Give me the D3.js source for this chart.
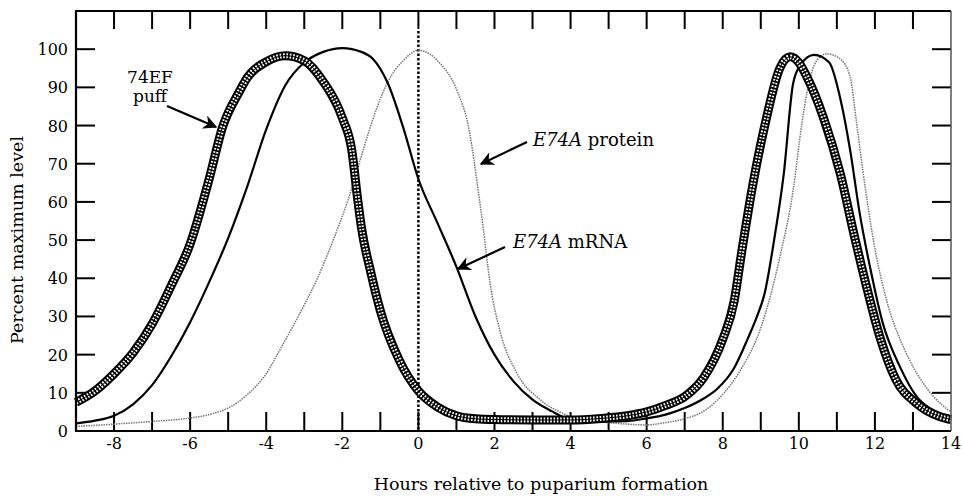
<!DOCTYPE html>
<html>
<head>
<meta charset="utf-8">
<script src="https://cdn.jsdelivr.net/npm/d3@7"></script>
<style>
body { margin: 0; background: #fff; }
text { font-family: "DejaVu Serif", serif; fill: #000; }
</style>
</head>
<body>
<svg width="962" height="496"></svg>
<script>
// hours relative to puparium formation, percent of max
var puff = [[-9,7.5],[-8.5,10.5],[-8,15],[-7.5,20.5],[-7,28],[-6.5,38],[-6,49],[-5.5,66],[-5.15,79.5],[-4.7,89],[-4.5,92.5],[-4,96.7],[-3.5,98.3],[-3,97],[-2.5,91.5],[-2,82],[-1.75,73.5],[-1.6,61],[-1.5,53.5],[-1.25,41.5],[-1,31.5],[-0.5,18.5],[0,10.5],[0.5,6.3],[1,4],[1.5,3.2],[2,3],[3,2.9],[4,2.9],[4.8,3.3],[5.5,4],[6,5],[6.5,6.7],[7,9],[7.5,14],[8,24],[8.3,34],[8.5,47],[8.8,65],[9.15,82],[9.5,95],[9.77,98],[10,96.5],[10.2,93],[10.65,82],[11.1,67],[11.45,51.5],[11.8,37],[12.15,24],[12.55,13.5],[13.1,7.2],[13.7,3.8],[14,3]];

var mrna = [[-9,2],[-8.5,2.7],[-8,4],[-7.5,7],[-7,12],[-6.5,19.5],[-6,28.5],[-5.5,39],[-5,50.5],[-4.5,64],[-4,79],[-3.5,90.5],[-3,96.5],[-2.5,99.3],[-2,100.3],[-1.5,99.3],[-1.2,97.5],[-0.8,91],[-0.4,79.5],[0,66],[0.5,54.5],[1,43],[1.5,30],[2,20],[2.5,13],[3,8.2],[3.5,5.2],[4,3],[4.5,2.6],[5,2.5],[5.5,2.6],[6,3.3],[6.5,4.3],[7,6],[7.5,8.5],[7.85,11],[8.3,16.5],[8.65,24],[8.9,30],[9.1,36],[9.35,50],[9.6,67],[9.85,91],[10.05,96],[10.4,98.5],[10.8,96.5],[11.08,87.5],[11.35,73.5],[11.6,57],[11.87,43],[12.2,28.5],[12.65,17],[13.1,9],[13.5,5.5],[13.8,3.5]];

var protein = [[-9,1.2],[-8,1.8],[-7,2.5],[-6,3.4],[-5.5,4.3],[-5,6],[-4.5,9.5],[-4,15],[-3.6,22],[-3,33],[-2.7,39],[-2.2,51],[-1.85,60.5],[-1.5,72],[-1.15,83],[-0.8,91.5],[-0.4,97],[0,99.7],[0.55,96.5],[1,89.5],[1.35,78],[1.53,66],[1.7,53.5],[1.88,39],[2.15,26],[2.58,15.3],[3.2,8.2],[3.8,4.6],[4.4,2.9],[5,2.2],[5.5,1.8],[6,1.6],[6.5,2.2],[7,3.2],[7.5,5.2],[7.85,8],[8.2,12],[8.5,16.5],[9,27],[9.5,45.5],[9.85,63],[10.08,80.5],[10.22,89],[10.47,97],[10.73,98.8],[11.08,97.5],[11.35,92.7],[11.52,80.5],[11.7,67],[11.96,50],[12.3,34.5],[12.75,22],[13.27,12.5],[13.8,6.5],[14,5]];

var xTicks = d3.range(-8, 14);
var xLabels = [-8, -6, -4, -2, 0, 2, 4, 6, 8, 10, 12, 14];
var yTicks = [10, 20, 30, 40, 50, 60, 70, 80, 90, 100];

var svg = d3.select("svg");

var x = d3.scaleLinear().domain([-9, 14]).range([76, 951]);
var y = d3.scaleLinear().domain([0, 110]).range([431, 11]);

var defs = svg.append("defs");
defs.append("marker")
  .attr("id", "head")
  .attr("viewBox", "0 0 10 10")
  .attr("refX", 9).attr("refY", 5)
  .attr("markerWidth", 14).attr("markerHeight", 14)
  .attr("markerUnits", "userSpaceOnUse")
  .attr("orient", "auto")
  .append("path")
  .attr("d", "M0,0 L10,5 L0,10 L3,5 Z")
  .style("fill", "#000");

var line = d3.line()
  .x(function(d) { return x(d[0]); })
  .y(function(d) { return y(d[1]); })
  .curve(d3.curveMonotoneX);

// ticks
var g = svg.append("g").style("stroke", "#000").style("stroke-width", 2);
g.selectAll(".tb").data(xTicks).enter().append("line")
  .attr("x1", function(d) { return x(d); }).attr("x2", function(d) { return x(d); })
  .attr("y1", 431).attr("y2", 412);
g.selectAll(".tt").data(xTicks).enter().append("line")
  .attr("x1", function(d) { return x(d); }).attr("x2", function(d) { return x(d); })
  .attr("y1", 11).attr("y2", 29);
g.selectAll(".tl").data(yTicks).enter().append("line")
  .attr("x1", 76).attr("x2", 95)
  .attr("y1", function(d) { return y(d); }).attr("y2", function(d) { return y(d); });
g.selectAll(".tr").data(yTicks).enter().append("line")
  .attr("x1", 951).attr("x2", 932)
  .attr("y1", function(d) { return y(d); }).attr("y2", function(d) { return y(d); });

// dotted line at 0
svg.append("line")
  .attr("x1", x(0)).attr("x2", x(0))
  .attr("y1", 31).attr("y2", 431)
  .style("stroke", "#000").style("stroke-width", 2.5)
  .style("stroke-dasharray", "2.5,2");

// curves
svg.append("path").datum(protein).attr("d", line)
  .style("fill", "none").style("stroke", "#777")
  .style("stroke-width", 1.5).style("stroke-dasharray", "1.5,1");

svg.append("path").datum(mrna).attr("d", line)
  .style("fill", "none").style("stroke", "#000").style("stroke-width", 2.2);

// thick hatched puff band
svg.append("path").datum(puff).attr("d", line)
  .style("fill", "none").style("stroke", "#000").style("stroke-width", 9);
svg.append("path").datum(puff).attr("d", line)
  .style("fill", "none").style("stroke", "#fff").style("stroke-width", 5)
  .style("stroke-dasharray", "1.6,1.7");
svg.append("path").datum(puff).attr("d", line)
  .style("fill", "none").style("stroke", "#000").style("stroke-width", 1);

// frame
svg.append("path")
  .attr("d", "M" + x(14) + "," + y(110) + "H" + x(-9) + "V" + y(0) + "H" + x(14))
  .style("fill", "none").style("stroke", "#000").style("stroke-width", 2.2);
svg.append("line")
  .attr("x1", x(14)).attr("x2", x(14)).attr("y1", y(110)).attr("y2", y(0))
  .style("stroke", "#555").style("stroke-width", 1.5);

// tick labels
svg.selectAll(".xl").data(xLabels).enter().append("text")
  .attr("x", function(d) { return x(d); })
  .attr("y", 449)
  .attr("text-anchor", "middle")
  .style("font-size", "16px")
  .text(function(d) { return d; });

svg.selectAll(".yl").data(yTicks.concat([0])).enter().append("text")
  .attr("x", 68)
  .attr("y", function(d) { return y(d) + 6; })
  .attr("text-anchor", "end")
  .style("font-size", "16px")
  .text(function(d) { return d; });

// axis titles
svg.append("text")
  .attr("x", 541).attr("y", 490)
  .attr("text-anchor", "middle")
  .style("font-size", "17.5px")
  .text("Hours relative to puparium formation");

svg.append("text")
  .attr("transform", "translate(23,240) rotate(-90)")
  .attr("text-anchor", "middle")
  .style("font-size", "17.5px")
  .text("Percent maximum level");

// annotations
var t0 = svg.append("text").attr("text-anchor", "middle").style("font-size", "17px");
t0.append("tspan").attr("x", 150).attr("y", 83).text("74EF");
t0.append("tspan").attr("x", 150).attr("dy", 19).text("puff");

var t1 = svg.append("text").attr("x", 533).attr("y", 146).style("font-size", "18px");
t1.append("tspan").style("font-style", "italic").text("E74A");
t1.append("tspan").text(" protein");

var t2 = svg.append("text").attr("x", 513).attr("y", 248).style("font-size", "18px");
t2.append("tspan").style("font-style", "italic").text("E74A");
t2.append("tspan").text(" mRNA");

var arrows = [[167, 106, 216, 127], [527, 142, 481, 164], [505, 247, 458, 269]];
svg.selectAll(".arr").data(arrows).enter().append("line")
  .attr("x1", function(d) { return d[0]; }).attr("y1", function(d) { return d[1]; })
  .attr("x2", function(d) { return d[2]; }).attr("y2", function(d) { return d[3]; })
  .style("stroke", "#000").style("stroke-width", 2.2)
  .attr("marker-end", "url(#head)");
</script>
</body>
</html>
